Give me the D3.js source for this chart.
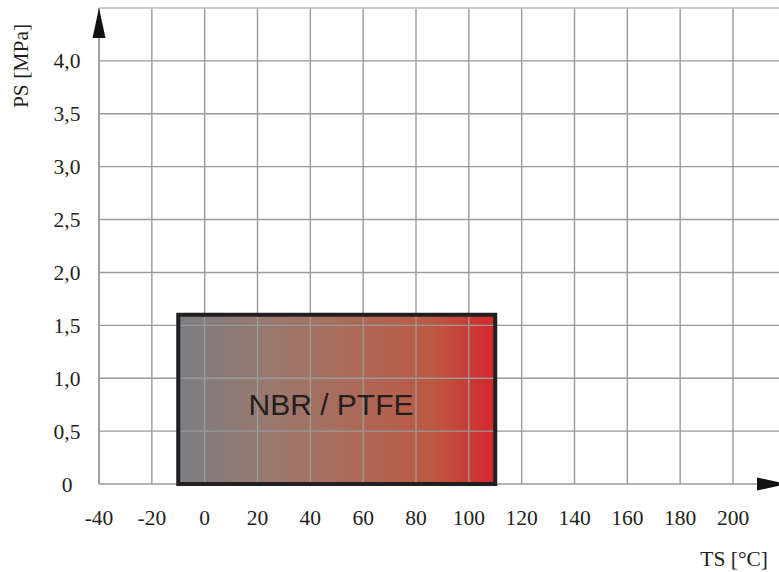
<!DOCTYPE html>
<html>
<head>
<meta charset="utf-8">
<script src="https://cdn.jsdelivr.net/npm/d3@7"></script>
<style>
  body { margin: 0; background: #fff; }
  svg { display: block; }
</style>
</head>
<body>
<div id="chart"></div>
<script>
// temperature ticks (°C) and pressure ticks (MPa)
const xTicks = [-40, -20, 0, 20, 40, 60, 80, 100, 120, 140, 160, 180, 200];
const yTicks = [0, 0.5, 1.0, 1.5, 2.0, 2.5, 3.0, 3.5, 4.0];
const yTickLabels = ["0", "0,5", "1,0", "1,5", "2,0", "2,5", "3,0", "3,5", "4,0"];
const yGrid = [0.5, 1.0, 1.5, 2.0, 2.5, 3.0, 3.5, 4.0, 4.5];

// operating region
const regionTemp = [-10, 110];
const regionPressure = [0, 1.6];
const regionLabel = "NBR / PTFE";
const gradientStops = [0, 0.3, 0.55, 0.8, 1];
const gradientColors = ["#7a7e83", "#9b786d", "#ab6a59", "#bd5843", "#d3262b"];

function drawChart() {
    const width = 779, height = 572;

    const svg = d3.select("#chart")
        .append("svg")
        .attr("width", width)
        .attr("height", height);

    const x = d3.scaleLinear()
        .domain([-40, 200])
        .range([99, 733]);
    const y = d3.scaleLinear()
        .domain([0, 4.5])
        .range([484, 8]);

    const defs = svg.append("defs");
    const grad = defs.append("linearGradient")
        .attr("id", "regionFill")
        .attr("x1", "0%").attr("x2", "100%")
        .attr("y1", "0%").attr("y2", "0%");
    grad.selectAll("stop")
        .data(gradientColors)
        .join("stop")
        .attr("offset", (d, i) => (gradientStops[i] * 100) + "%")
        .attr("stop-color", d => d);

    // region fill (below the grid)
    svg.append("rect")
        .attr("x", x(regionTemp[0]))
        .attr("y", y(regionPressure[1]))
        .attr("width", x(regionTemp[1]) - x(regionTemp[0]))
        .attr("height", y(regionPressure[0]) - y(regionPressure[1]))
        .attr("fill", "url(#regionFill)");

    // grid
    svg.append("g")
        .selectAll("line")
        .data(xTicks)
        .join("line")
        .attr("x1", d => x(d)).attr("x2", d => x(d))
        .attr("y1", y(4.5)).attr("y2", y(0))
        .attr("stroke", "#9a9a9a")
        .attr("stroke-width", 1.4);
    svg.append("g")
        .selectAll("line")
        .data(yGrid)
        .join("line")
        .attr("x1", x(-40)).attr("x2", width)
        .attr("y1", d => y(d)).attr("y2", d => y(d))
        .attr("stroke", d => d === 4.5 ? "#bdbdbd" : "#9a9a9a")
        .attr("stroke-width", 1.4);

    // axes
    svg.append("line")
        .attr("x1", x(-40)).attr("x2", width)
        .attr("y1", y(0)).attr("y2", y(0))
        .attr("stroke", "#9a9a9a")
        .attr("stroke-width", 1.6);
    svg.append("line")
        .attr("x1", x(-40)).attr("x2", x(-40))
        .attr("y1", y(4.5)).attr("y2", y(0))
        .attr("stroke", "#9a9a9a")
        .attr("stroke-width", 1.6);

    // region border
    svg.append("rect")
        .attr("x", x(regionTemp[0]))
        .attr("y", y(regionPressure[1]))
        .attr("width", x(regionTemp[1]) - x(regionTemp[0]))
        .attr("height", y(regionPressure[0]) - y(regionPressure[1]))
        .attr("fill", "none")
        .attr("stroke", "#231f20")
        .attr("stroke-width", 4);

    svg.append("text")
        .attr("x", 331)
        .attr("y", y(0.65))
        .attr("text-anchor", "middle")
        .attr("font-family", "Liberation Sans, Arial, sans-serif")
        .attr("font-size", 30)
        .attr("fill", "#231f20")
        .text(regionLabel);

    // arrow heads
    const ax = x(-40), ay = y(0);
    svg.append("path")
        .attr("d", `M${ax},${y(4.5)} L${ax - 6.5},${y(4.5) + 30} L${ax + 6.5},${y(4.5) + 30} Z`)
        .attr("fill", "#111");
    svg.append("path")
        .attr("d", `M${757},${ay - 6.5} L${787},${ay} L${757},${ay + 6.5} Z`)
        .attr("fill", "#111");

    // tick labels
    const serif = "Liberation Serif, Times New Roman, serif";
    const fs = 21.5;
    svg.append("g")
        .selectAll("text")
        .data(xTicks)
        .join("text")
        .attr("x", d => x(d))
        .attr("y", 525)
        .attr("text-anchor", "middle")
        .attr("font-family", serif)
        .attr("font-size", fs)
        .attr("fill", "#231f20")
        .text(d => d);
    svg.append("g")
        .selectAll("text")
        .data(yTicks)
        .join("text")
        .attr("x", 67)
        .attr("y", d => y(d) + 7.5)
        .attr("text-anchor", "middle")
        .attr("font-family", serif)
        .attr("font-size", fs)
        .attr("fill", "#231f20")
        .text((d, i) => yTickLabels[i]);

    // axis titles
    svg.append("text")
        .attr("x", 768)
        .attr("y", 566)
        .attr("text-anchor", "end")
        .attr("font-family", serif)
        .attr("font-size", fs)
        .attr("fill", "#231f20")
        .text("TS [°C]");
    svg.append("text")
        .attr("transform", "translate(28,66) rotate(-90)")
        .attr("text-anchor", "middle")
        .attr("font-family", serif)
        .attr("font-size", fs)
        .attr("fill", "#231f20")
        .text("PS [MPa]");
}

drawChart();
</script>
</body>
</html>
